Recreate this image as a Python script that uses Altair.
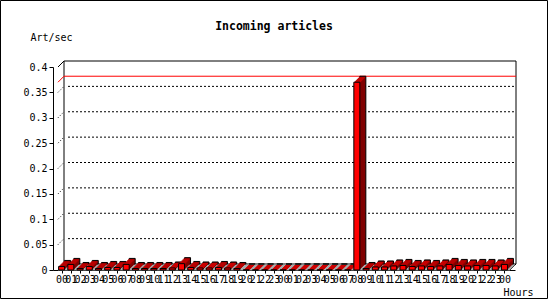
import json
import altair as alt
import pandas as pd

# ---------------- data ----------------
hour_labels = [f"{h:02d}" for h in range(24)] * 2 + ["00"]
values = [
    0.007, 0.011, 0.003, 0.007, 0.003, 0.005, 0.005, 0.011, 0.003, 0.003,
    0.003, 0.003, 0.004, 0.0125, 0.005, 0.004, 0.004, 0.005, 0.004, 0.003,
    0.0, 0.0, 0.0, 0.0,
    0.0, 0.0, 0.0, 0.0, 0.0, 0.0, 0.0, 0.0, 0.37, 0.003,
    0.006, 0.006, 0.008, 0.009, 0.007, 0.008, 0.007, 0.008, 0.011, 0.009,
    0.008, 0.009, 0.009, 0.008, 0.011,
]
y_ticks = [0, 0.05, 0.1, 0.15, 0.2, 0.25, 0.3, 0.35, 0.4]
y_tick_labels = ["0", "0.05", "0.1", "0.15", "0.2", "0.25", "0.3", "0.35", "0.4"]
grid_values = [0.05, 0.1, 0.15, 0.2, 0.25, 0.3, 0.35]
title_text = "Incoming articles"
y_title = "Art/sec"
x_title = "Hours"

# ---------------- styling ----------------
X_MIN, X_MAX = -0.39, 48.6
Y_MAX = 0.4
W, H = 462, 203
D = 6
BAR_W = 6
FONT = "DejaVu Sans Mono"
FRONT = "#ff0000"
SIDE = "#800000"
TOP = "#cc0000"
FLOOR = "#909090"

df = pd.DataFrame({"idx": list(range(len(values))), "hour": hour_labels, "value": values})
grid_df = pd.DataFrame({"v": grid_values})
max_df = pd.DataFrame({"v": [max(values)]})
one_df = pd.DataFrame({"t": [title_text]})

xs = alt.Scale(domain=[X_MIN, X_MAX], nice=False, zero=False)
ys = alt.Scale(domain=[0, Y_MAX], nice=False, zero=False)

x_axis = alt.Axis(
    values=list(range(len(values))),
    labelExpr=f"{json.dumps(hour_labels)}[round(datum.value)]",
    labelOverlap=False, labelBound=False, labelFlush=False,
    labelFont=FONT, labelFontSize=10, labelColor="black", labelPadding=1,
    tickSize=3, tickColor="black", domainColor="black", grid=False,
    title=x_title, titleFont=FONT, titleFontSize=10, titleFontWeight="normal",
    titleColor="black", titleX=450, titleY=25, titleAlign="left",
    titleBaseline="alphabetic",
)
y_axis = alt.Axis(
    values=y_ticks,
    labelExpr=f"{json.dumps(y_tick_labels)}[round(datum.value*20)]",
    labelOverlap=False, labelFlush=False,
    labelFont=FONT, labelFontSize=10, labelColor="black", labelPadding=2,
    tickSize=4, tickColor="black", domainColor="black", grid=False,
    title=y_title, titleFont=FONT, titleFontSize=10, titleFontWeight="normal",
    titleColor="black", titleAngle=0, titleX=-23, titleY=-27, titleAlign="left",
    titleBaseline="alphabetic",
)


def XF(f):
    return alt.X(f, type="quantitative", scale=xs, axis=x_axis)


def YF(f):
    return alt.Y(f, type="quantitative", scale=ys, axis=y_axis)


def xd(v):
    return alt.X(datum=v, type="quantitative", scale=xs, axis=x_axis)


def yd(v):
    return alt.Y(datum=v, type="quantitative", scale=ys, axis=y_axis)


base = alt.Chart(df)
layers = []


def hrule(yv, color="black"):
    return alt.Chart(one_df).mark_rule(color=color, strokeWidth=1, xOffset=D, x2Offset=D, yOffset=-D).encode(
        x=xd(X_MIN), x2=alt.X2(datum=X_MAX), y=yd(yv))


# back wall frame
layers.append(hrule(Y_MAX))
layers.append(hrule(0))
for xv in (X_MIN, X_MAX):
    layers.append(
        alt.Chart(one_df).mark_rule(color="black", strokeWidth=1, xOffset=D, yOffset=-D, y2Offset=-D)
        .encode(x=xd(xv), y=yd(0), y2=alt.Y2(datum=Y_MAX))
    )
# side diagonals
layers.append(
    alt.Chart(one_df).mark_rule(color="black", strokeWidth=1, x2Offset=D, y2Offset=-D)
    .encode(x=xd(X_MIN), x2=alt.X2(datum=X_MIN), y=yd(Y_MAX), y2=alt.Y2(datum=Y_MAX))
)
layers.append(
    alt.Chart(one_df).mark_rule(color="black", strokeWidth=1, x2Offset=D, y2Offset=-D)
    .encode(x=xd(X_MAX), x2=alt.X2(datum=X_MAX), y=yd(0), y2=alt.Y2(datum=0))
)
# dotted grid on back wall and on left wall
layers.append(
    alt.Chart(grid_df).mark_rule(color="black", strokeWidth=1, strokeDash=[2, 2],
                                 xOffset=D + 4, x2Offset=D, yOffset=-D)
    .encode(x=xd(X_MIN), x2=alt.X2(datum=X_MAX), y=YF("v"))
)
layers.append(
    alt.Chart(grid_df).mark_rule(color="black", strokeWidth=1, strokeDash=[1, 2],
                                 x2Offset=D, y2Offset=-D)
    .encode(x=xd(X_MIN), x2=alt.X2(datum=X_MIN), y=YF("v"), y2="v:Q")
)
# red maximum line
layers.append(
    alt.Chart(max_df).mark_rule(color="red", strokeWidth=1, xOffset=D, x2Offset=D, yOffset=-D)
    .encode(x=xd(X_MIN), x2=alt.X2(datum=X_MAX), y=YF("v"))
)
layers.append(
    alt.Chart(max_df).mark_rule(color="red", strokeWidth=1, x2Offset=D, y2Offset=-D)
    .encode(x=xd(X_MIN), x2=alt.X2(datum=X_MIN), y=YF("v"), y2="v:Q")
)
# floor
for k in range(0, D):
    layers.append(
        alt.Chart(one_df).mark_rule(color=FLOOR, strokeWidth=1.2, xOffset=k, x2Offset=k, yOffset=-k)
        .encode(x=xd(X_MIN), x2=alt.X2(datum=X_MAX), y=yd(0))
    )

# bars: side / back
for k in range(D, 0, -1):
    kw = dict(width=BAR_W, color=SIDE, xOffset=k, yOffset=-k, y2Offset=-k)
    if k == D:
        kw.update(stroke="black", strokeWidth=1)
    layers.append(base.mark_bar(**kw).encode(x=XF("idx"), y=YF("value")))
# bars: top face
for k in range(1, D):
    layers.append(
        base.mark_bar(width=BAR_W, color=TOP, xOffset=k, yOffset=-k, y2Offset=-k + 1)
        .encode(x=XF("idx"), y=YF("value"), y2="value:Q")
    )
# bars: front face
layers.append(
    base.mark_bar(width=BAR_W, color=FRONT, stroke="black", strokeWidth=1)
    .encode(x=XF("idx"), y=YF("value"))
)

# title
layers.append(
    alt.Chart(one_df).mark_text(font=FONT, fontSize=11.5, fontWeight="bold", color="black",
                                align="center", baseline="alphabetic")
    .encode(text="t:N", x=alt.value(274 - 53), y=alt.value(30 - 67))
)
# outer border
layers.append(
    alt.Chart(one_df).mark_rect(fillOpacity=0, stroke="black", strokeWidth=1)
    .encode(x=alt.value(-52.5), x2=alt.value(494.5), y=alt.value(-66.5), y2=alt.value(231.5))
)

chart = alt.layer(*layers).properties(
    width=W, height=H,
    padding={"left": 53, "top": 67, "right": 35, "bottom": 30},
    autosize=alt.AutoSizeParams(type="none"),
    background="white",
).configure_view(stroke=None)

chart.save("out.html", embed_options={"renderer": "svg", "actions": False})
